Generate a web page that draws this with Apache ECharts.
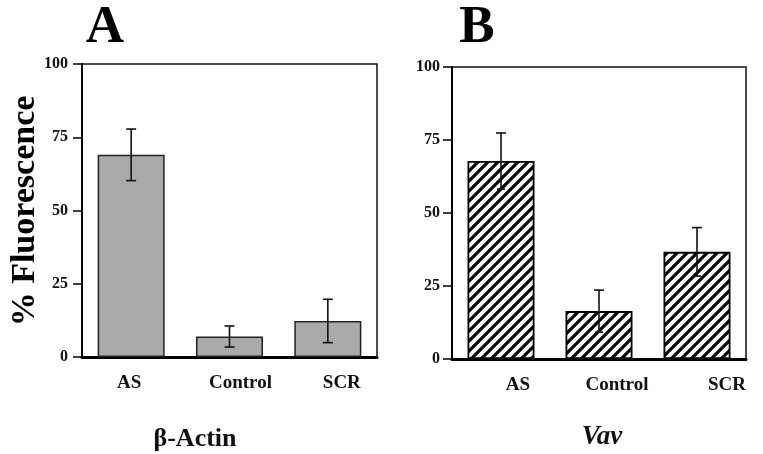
<!DOCTYPE html>
<html>
<head>
<meta charset="utf-8">
<script src="https://cdn.jsdelivr.net/npm/echarts@6/dist/echarts.min.js"></script>
<style>html,body{margin:0;padding:0;background:#fff}#c{width:763px;height:454px}</style>
</head>
<body>
<div id="c"></div>
<script>
// ---- data ----
var categories = ['AS', 'Control', 'SCR'];
var actinMeans = [69, 7, 12.3];
var actinErrors = [8.8, 3.6, 7.4];
var vavMeans = [67.8, 16.4, 36.7];
var vavErrors = [9.6, 7.2, 8.3];
var yTicks = [0, 25, 50, 75, 100];
var panelLetters = ['A', 'B'];
var panelTitles = ['β-Actin', 'Vav'];
var yAxisTitle = '% Fluorescence';

// ---- layout (not data) ----
var labelShiftA = [-2, 11, 14];
var labelShiftB = [17, 18, 30];
var FONT = '"Liberation Serif", "Times New Roman", serif';

function hatch() {
  var c = document.createElement('canvas');
  c.width = 10; c.height = 10;
  var g = c.getContext('2d');
  g.fillStyle = '#fff'; g.fillRect(0, 0, 10, 10);
  g.strokeStyle = '#000'; g.lineWidth = 3.2; g.lineCap = 'square';
  g.beginPath();
  g.moveTo(-2, 12); g.lineTo(12, -2);
  g.moveTo(-7, 7); g.lineTo(7, -7);
  g.moveTo(3, 17); g.lineTo(17, 3);
  g.stroke();
  return c;
}

function catData(shifts) {
  return categories.map(function (c, i) {
    var s = shifts[i];
    return {
      value: c,
      textStyle: { padding: s >= 0 ? [0, 0, 0, 2 * s] : [0, -2 * s, 0, 0] }
    };
  });
}

function errSeries(idx, means, errs, lowerCap) {
  var data = means.map(function (m, i) { return [i, m - errs[i], m + errs[i]]; });
  return {
    type: 'custom', xAxisIndex: idx, yAxisIndex: idx, z: 10,
    data: data,
    renderItem: function (params, api) {
      var lo = api.coord([api.value(0), api.value(1)]);
      var hi = api.coord([api.value(0), api.value(2)]);
      var x = lo[0];
      var hw = 5, lw = lowerCap;
      var st = { stroke: '#111', lineWidth: 1.6 };
      return {
        type: 'group',
        children: [
          { type: 'line', shape: { x1: x, y1: hi[1], x2: x, y2: lo[1] }, style: st },
          { type: 'line', shape: { x1: x - hw, y1: hi[1], x2: x + hw, y2: hi[1] }, style: st },
          { type: 'line', shape: { x1: x - lw, y1: lo[1], x2: x + lw, y2: lo[1] }, style: st }
        ]
      };
    }
  };
}

var grids = [
  { left: 82, top: 64, width: 295, height: 293, show: true, borderColor: '#111', borderWidth: 1.5 },
  { left: 452, top: 67, width: 294, height: 292, show: true, borderColor: '#111', borderWidth: 1.5 }
];

function xAx(idx, shifts) {
  return {
    type: 'category', gridIndex: idx, data: catData(shifts),
    axisLine: { lineStyle: { color: '#000', width: 3 } },
    axisTick: { show: false },
    axisLabel: { fontFamily: FONT, fontWeight: 'bold', fontSize: 19, color: '#111', margin: 17 }
  };
}
function yAx(idx, margin) {
  return {
    type: 'value', gridIndex: idx, min: yTicks[0], max: yTicks[yTicks.length - 1], interval: yTicks[1] - yTicks[0],
    splitLine: { show: false },
    axisLine: { show: true, lineStyle: { color: '#000', width: 2 } },
    axisTick: { show: true, length: 9, lineStyle: { color: '#000', width: 1.5 } },
    axisLabel: { fontFamily: FONT, fontWeight: 'bold', fontSize: 16, color: '#111', margin: margin }
  };
}

var chart = echarts.init(document.getElementById('c'), null, { renderer: 'canvas' });
chart.setOption({
  backgroundColor: '#fff',
  animation: false,
  grid: grids,
  xAxis: [xAx(0, labelShiftA), xAx(1, labelShiftB)],
  yAxis: [yAx(0, 14), yAx(1, 12)],
  title: [
    { text: panelLetters[0], left: 100, top: -3, textAlign: 'center', textStyle: { fontFamily: FONT, fontWeight: 'bold', fontSize: 53, color: '#000' } },
    { text: panelLetters[1], left: 472, top: -3, textAlign: 'center', textStyle: { fontFamily: FONT, fontWeight: 'bold', fontSize: 53, color: '#000' } },
    { text: panelTitles[0], left: 190, top: 421, textAlign: 'center', textStyle: { fontFamily: FONT, fontWeight: 'bold', fontSize: 26, color: '#111' } },
    { text: panelTitles[1], left: 597, top: 419, textAlign: 'center', textStyle: { fontFamily: FONT, fontWeight: 'bold', fontStyle: 'italic', fontSize: 27, color: '#111' } }
  ],
  graphic: [
    { type: 'text', x: 25, y: 211, rotation: Math.PI / 2,
      style: { text: yAxisTitle, font: 'bold 34px ' + FONT, fill: '#000', textAlign: 'center', textVerticalAlign: 'middle' } }
  ],
  series: [
    { type: 'bar', xAxisIndex: 0, yAxisIndex: 0, data: actinMeans, barWidth: 67,
      itemStyle: { color: '#aaaaaa', borderColor: '#222', borderWidth: 1.5 } },
    { type: 'bar', xAxisIndex: 1, yAxisIndex: 1, data: vavMeans, barWidth: 67,
      itemStyle: { color: { image: hatch(), repeat: 'repeat' }, borderColor: '#000', borderWidth: 1.8 } },
    errSeries(0, actinMeans, actinErrors, 5),
    errSeries(1, vavMeans, vavErrors, 4)
  ]
});
</script>
</body>
</html>
